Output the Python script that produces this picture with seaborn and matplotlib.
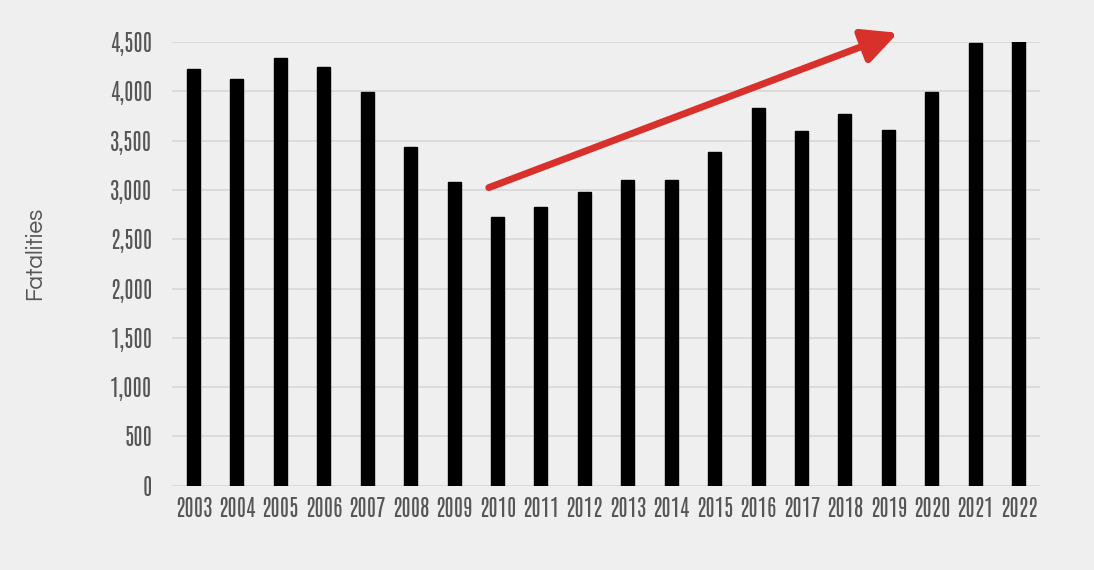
import matplotlib
matplotlib.use("Agg")
import matplotlib.pyplot as plt
import seaborn as sns
import pandas as pd
from matplotlib import font_manager

years = ["2003", "2004", "2005", "2006", "2007", "2008", "2009", "2010", "2011", "2012",
         "2013", "2014", "2015", "2016", "2017", "2018", "2019", "2020", "2021", "2022"]
fatalities = [4226, 4124, 4338, 4246, 3995, 3437, 3085, 2722, 2824, 2976,
              3101, 3101, 3386, 3833, 3599, 3772, 3606, 3999, 4493, 4507]
ytick_values = [0, 500, 1000, 1500, 2000, 2500, 3000, 3500, 4000, 4500]
ytick_labels = ["0", "500", "1,000", "1,500", "2,000", "2,500", "3,000", "3,500", "4,000", "4,500"]
arrow_start = (6.8, 3024)
arrow_end = (16.22, 4595)

bg = "#efefef"
sns.set_theme(style="whitegrid", rc={
    "figure.facecolor": bg, "axes.facecolor": bg, "grid.color": "#d8d8d8",
    "axes.edgecolor": bg,
})

names = {f.name for f in font_manager.fontManager.ttflist}
def pick(cands):
    for c in cands:
        if c in names:
            return c
    return "DejaVu Sans"
narrow = pick(["Antonio", "Saira Extra Condensed", "Teko", "Oswald", "Barlow Condensed"])
gothic = pick(["Questrial", "Didact Gothic", "Mulish", "Poppins"])
plt.rcParams["font.family"] = [narrow, "DejaVu Sans"]

df = pd.DataFrame({"year": years, "fatalities": fatalities})

fig = plt.figure(figsize=(10.94, 5.70), dpi=100)
ax = fig.add_axes([0.157, 0.148, 0.794, 0.778])
sns.barplot(data=df, x="year", y="fatalities", color="black", width=0.3,
            saturation=1, ax=ax)
for p in ax.patches:
    p.set_edgecolor("black")
    p.set_facecolor("black")

ax.set_xlim(-0.5, 19.5)
ax.set_ylim(0, 4500)
ax.set_yticks(ytick_values)
ax.set_yticklabels(ytick_labels, family=[narrow, "DejaVu Sans"], fontsize=16, color="#555555")
ax.set_xticks(range(len(years)))
ax.set_xticklabels(years, family=[narrow, "DejaVu Sans"], fontsize=16, color="#555555")
ax.tick_params(axis="y", pad=14, length=0)
ax.tick_params(axis="x", pad=8, length=0)
ax.grid(axis="x", visible=False)
ax.grid(axis="y", color="#d8d8d8", linewidth=1.2)
ax.set_axisbelow(True)
for s in ax.spines.values():
    s.set_visible(False)
ax.set_xlabel("")
ax.set_ylabel("")
fig.text(0.032, 0.556, "Fatalities", rotation=90, ha="center", va="center",
         fontsize=16.5, color="#555555", family=[gothic, "DejaVu Sans"])

ax.annotate("", xy=arrow_end, xytext=arrow_start, annotation_clip=False,
            arrowprops=dict(arrowstyle="-|>,head_length=0.85,head_width=0.42",
                            color="#d8302a", lw=5, mutation_scale=25,
                            shrinkA=0, shrinkB=0))

fig.savefig("out.png", dpi=100, facecolor=bg)
